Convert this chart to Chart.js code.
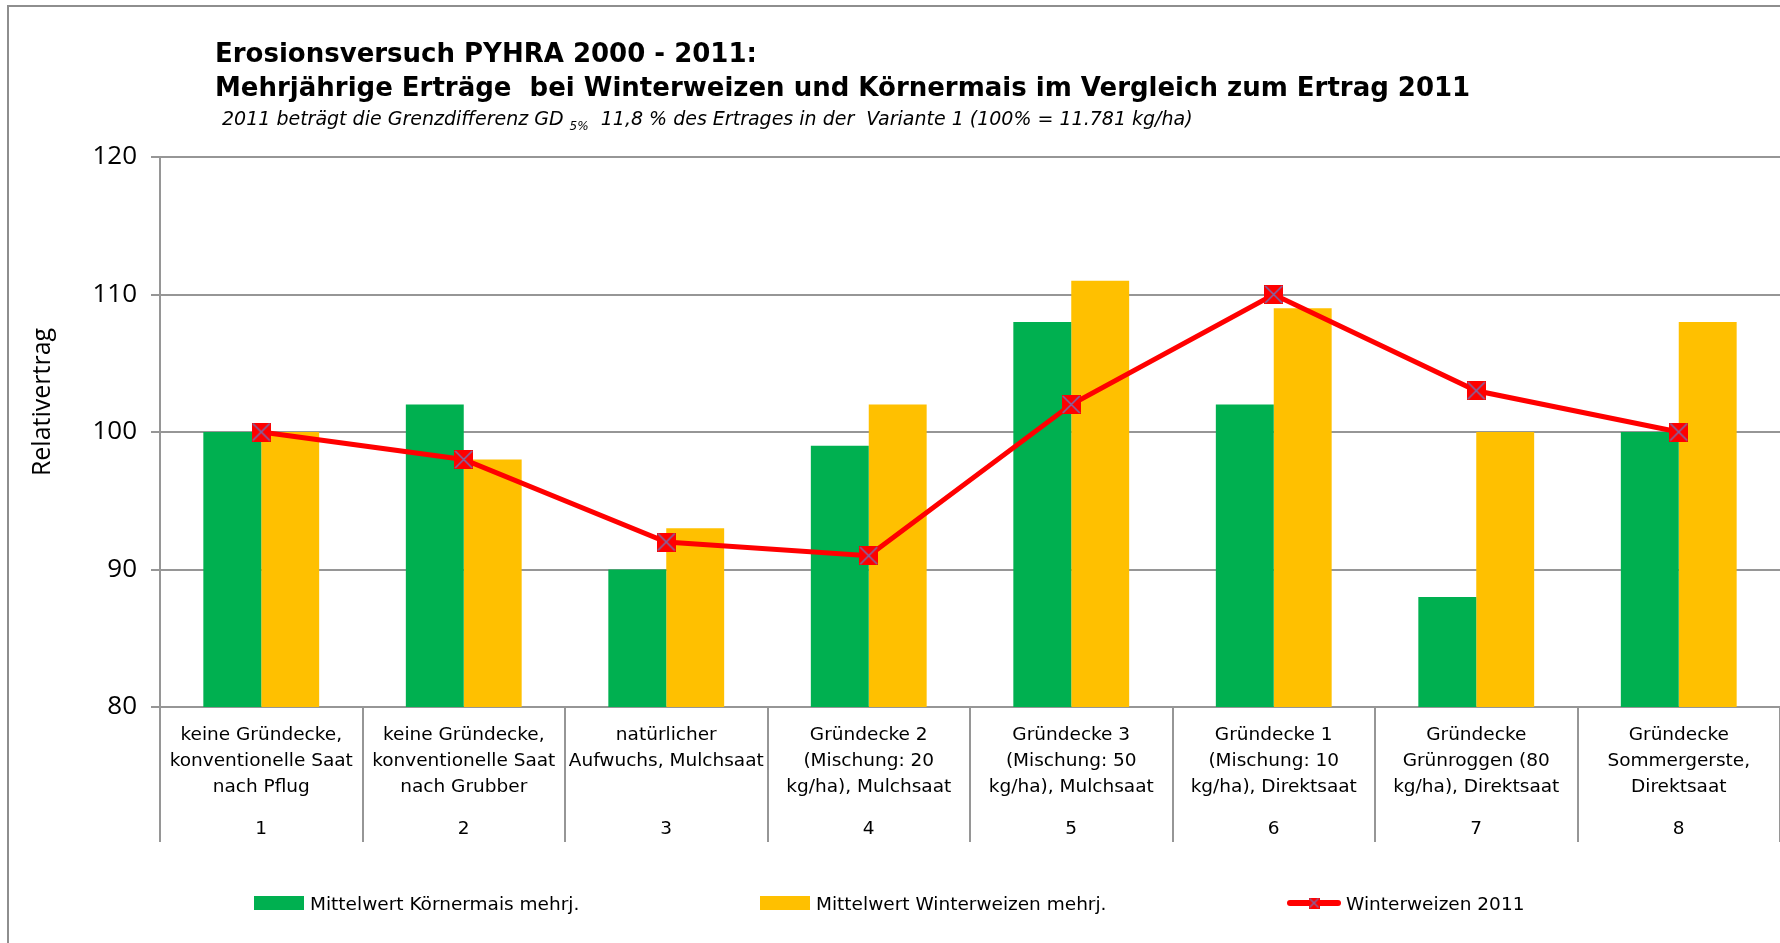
<!DOCTYPE html>
<html lang="de">
<head>
<meta charset="utf-8">
<title>Erosionsversuch PYHRA 2000 - 2011</title>
<script src="https://cdn.jsdelivr.net/npm/chart.js@4.4.1/dist/chart.umd.min.js"></script>
<style>
  html, body { margin: 0; background: #fff; overflow: hidden; }
  #wrap { position: relative; width: 1780px; height: 943px; overflow: hidden; }
  #rahmen { position: absolute; left: 7px; top: 5px; width: 1800px; height: 1000px;
            border-left: 2px solid #8e8e8e; border-top: 2px solid #8e8e8e; }
  #ertragChart { position: absolute; left: 0; top: 0; }
  .titel { position: absolute; left: 215px; font: bold 26px "DejaVu Sans", sans-serif;
           color: #000; white-space: pre; line-height: 34px; }
  .untertitel { position: absolute; left: 222px; top: 105px; font: italic 19px "DejaVu Sans", sans-serif;
                color: #000; white-space: pre; line-height: 26px; }
  .untertitel sub { font-size: 12px; }
  .legende { position: absolute; top: 891px; height: 24px; display: flex; align-items: center;
             font: 18.5px "DejaVu Sans", sans-serif; color: #000; white-space: pre; }
  .box { width: 50px; height: 14px; margin-right: 6px; }
</style>
</head>
<body>
<div id="wrap">
  <div id="rahmen"></div>
  <canvas id="ertragChart" width="1780" height="943"></canvas>
  <div class="titel" style="top:36px">Erosionsversuch PYHRA 2000 - 2011:</div>
  <div class="titel" style="top:70px">Mehrjährige Erträge  bei Winterweizen und Körnermais im Vergleich zum Ertrag 2011</div>
  <div class="untertitel">2011 beträgt die Grenzdifferenz GD <sub>5%</sub>  11,8 % des Ertrages in der  Variante 1 (100% = 11.781 kg/ha)</div>
  <div class="legende" style="left:254px"><span class="box" style="background:#00B050"></span>Mittelwert Körnermais mehrj.</div>
  <div class="legende" style="left:760px"><span class="box" style="background:#FFC000"></span>Mittelwert Winterweizen mehrj.</div>
  <div class="legende" style="left:1286px"><canvas id="legLinie" width="56" height="16" style="margin-right:4px"></canvas>Winterweizen 2011</div>
</div>
<script>
// Daten
const kategorien = [
  ['keine Gründecke,', 'konventionelle Saat', 'nach Pflug'],
  ['keine Gründecke,', 'konventionelle Saat', 'nach Grubber'],
  ['natürlicher', 'Aufwuchs, Mulchsaat'],
  ['Gründecke 2', '(Mischung: 20', 'kg/ha), Mulchsaat'],
  ['Gründecke 3', '(Mischung: 50', 'kg/ha), Mulchsaat'],
  ['Gründecke 1', '(Mischung: 10', 'kg/ha), Direktsaat'],
  ['Gründecke', 'Grünroggen (80', 'kg/ha), Direktsaat'],
  ['Gründecke', 'Sommergerste,', 'Direktsaat']
];
const varianten = ['1', '2', '3', '4', '5', '6', '7', '8'];
const koernermaisMehrj = [100, 102, 90, 99, 108, 102, 88, 100];
const winterweizenMehrj = [100, 98, 93, 102, 111, 109, 100, 108];
const winterweizen2011 = [100, 98, 92, 91, 102, 110, 103, 100];
const yMin = 80, yMax = 120, yStep = 10;
const yTitel = 'Relativertrag';

const GRAU = '#969696';

// Marker: rotes Quadrat mit Kreuz
function markerBild(size, kreuz) {
  const c = document.createElement('canvas');
  c.width = size; c.height = size;
  const g = c.getContext('2d');
  g.fillStyle = '#FF0000';
  g.fillRect(0, 0, size, size);
  g.strokeStyle = '#7a6aa8';
  g.lineWidth = kreuz;
  g.beginPath();
  g.moveTo(1, 1); g.lineTo(size - 1, size - 1);
  g.moveTo(size - 1, 1); g.lineTo(1, size - 1);
  g.stroke();
  return c;
}
const marker = markerBild(19, 1.6);

// Legendensymbol für die Linie
(function () {
  const g = document.getElementById('legLinie').getContext('2d');
  g.strokeStyle = '#FF0000'; g.lineWidth = 6; g.lineCap = 'round';
  g.beginPath(); g.moveTo(4, 8); g.lineTo(52, 8); g.stroke();
  g.drawImage(markerBild(11, 1.3), 22.5, 2.5);
})();

// Nummernzeile unter den Kategorietexten + Achsentitel links
const zusatzTexte = {
  id: 'zusatzTexte',
  afterDraw(chart) {
    const xs = chart.scales.x, ctx = chart.ctx;
    ctx.save();
    ctx.font = '18.5px "DejaVu Sans", sans-serif';
    ctx.fillStyle = '#000';
    ctx.textAlign = 'center';
    ctx.textBaseline = 'middle';
    varianten.forEach((v, i) => ctx.fillText(v, xs.getPixelForValue(i), 829));
    // y-Achsentitel (in Excel etwas oberhalb der Mitte)
    ctx.translate(43, 402);
    ctx.rotate(-Math.PI / 2);
    ctx.font = '25px "Open Sans", sans-serif';
    ctx.fillText(yTitel, 0, 0);
    ctx.restore();
  }
};

const ctx = document.getElementById('ertragChart').getContext('2d');
const chart = new Chart(ctx, {
  type: 'bar',
  data: {
    labels: kategorien,
    datasets: [
      {
        type: 'line',
        label: 'Winterweizen 2011',
        data: winterweizen2011,
        borderColor: '#FF0000',
        borderWidth: 5,
        pointStyle: marker,
        pointRadius: 10,
        tension: 0,
        order: 0
      },
      {
        label: 'Mittelwert Körnermais mehrj.',
        data: koernermaisMehrj,
        backgroundColor: '#00B050',
        categoryPercentage: 0.572,
        barPercentage: 1.0,
        order: 1
      },
      {
        label: 'Mittelwert Winterweizen mehrj.',
        data: winterweizenMehrj,
        backgroundColor: '#FFC000',
        categoryPercentage: 0.572,
        barPercentage: 1.0,
        order: 1
      }
    ]
  },
  options: {
    responsive: false,
    animation: false,
    layout: { autoPadding: false, padding: { top: 157, left: 0, right: 0, bottom: 0 } },
    plugins: {
      legend: { display: false },
      title: { display: false },
      tooltip: { enabled: true }
    },
    scales: {
      x: {
        offset: true,
        grid: { offset: true, drawOnChartArea: false, tickLength: 135, color: GRAU, lineWidth: 2 },
        border: { color: GRAU, width: 2 },
        ticks: {
          color: '#000',
          font: { family: '"DejaVu Sans", sans-serif', size: 18.5, lineHeight: 1.42 },
          padding: -120,
          maxRotation: 0,
          autoSkip: false
        },
        afterFit: s => { s.height = 236; s.paddingLeft = 0; s.paddingRight = 0; }
      },
      y: {
        min: yMin,
        max: yMax,
        ticks: {
          stepSize: yStep,
          color: '#000',
          font: { family: '"Open Sans", sans-serif', size: 26 },
          padding: 14
        },
        grid: { color: GRAU, lineWidth: 2, tickLength: 9 },
        border: { color: GRAU, width: 2 },
        afterFit: s => { s.width = 160; }
      }
    }
  },
  plugins: [zusatzTexte]
});
</script>
</body>
</html>
